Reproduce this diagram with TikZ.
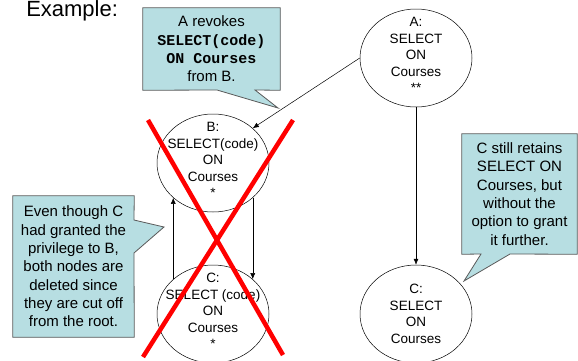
\documentclass[tikz,border=0pt]{standalone}
\usepackage{fontspec}
\setmainfont{Liberation Sans}
\setmonofont{Liberation Mono}
\usetikzlibrary{arrows.meta,shapes.geometric,backgrounds}

\definecolor{tipfill}{RGB}{183,222,226}
\definecolor{tipline}{RGB}{90,90,90}

\begin{document}
\begin{tikzpicture}[x=1pt,y=-1pt,>={Latex[length=6pt,width=5pt]},line width=0.5pt,
	priv/.style={ellipse,draw,minimum width=112pt,minimum height=98pt,inner sep=0pt},
	privtext/.style={align=center,inner sep=0pt,font=\fontsize{13.5}{16.5}\selectfont},
	tiptext/.style={align=center,inner sep=0pt,font=\fontsize{15}{18.3}\selectfont},
	tipbox/.style={fill=tipfill,draw=tipline,line width=0.8pt},
	cross/.style={red,line width=4.5pt}]
\useasboundingbox (0,0) rectangle (578,360);

\node at (26,16) [anchor=base west,inner sep=0pt,font=\fontsize{22}{26}\selectfont] (title) {Example:};

\node[priv] (A) at (416,58) {};
\node[privtext] (At) at (416,55) {A:\\SELECT\\ON\\Courses\\**};

\node[priv] (B) at (213,163) {};
\node[privtext] (Bt) at (213,160) {B:\\SELECT(code)\\ON\\Courses\\*};

\node[priv] (C) at (213,314) {};
\node[privtext] (Ct) at (213,311) {C:\\SELECT (code)\\ON\\Courses\\*};

\node[priv] (Cn) at (416,314) {};
\node[privtext] (Cnt) at (416,314) {C:\\SELECT\\ON\\Courses};

\draw[->] (A.west) -- (B.north east);
\draw[->] (A.south) -- (Cn.north);
\draw[->] (B.south east) -- (C.north east);
\draw[->] (C.north west) -- (B.south west);

\node[tiptext,minimum width=137pt,minimum height=82pt] (revoke) at (211.5,49)
	{A revokes\\\texttt{\textbf{SELECT(code)}}\\\texttt{\textbf{ON Courses}}\\from B.};
\node[tiptext,minimum width=121pt,minimum height=141pt] (deleted) at (73.5,266.5)
	{Even though C\\had granted the\\privilege to B,\\both nodes are\\deleted since\\they are cut off\\from the root.};
\node[tiptext,minimum width=115pt,minimum height=120pt] (retain) at (519.5,194)
	{C still retains\\SELECT ON\\Courses, but\\without the\\option to grant\\it further.};

\begin{scope}[on background layer]
\draw[tipbox] (revoke.north west) -- (revoke.north east) -- (revoke.south east)
	-- (255,90) -- (278,108) -- (217,90) -- (revoke.south west) -- cycle;
\draw[tipbox] (deleted.north west) -- (deleted.north east) -- (134,220)
	-- (164,227) -- (134,253) -- (deleted.south east) -- (deleted.south west) -- cycle;
\draw[tipbox] (retain.north west) -- (retain.north east) -- (retain.south east)
	-- (510,254) -- (464,281) -- (481,254) -- (retain.south west) -- cycle;
\end{scope}

\draw[cross] (148,120) -- (283,355);
\draw[cross] (293,120) -- (143,357);

\end{tikzpicture}
\end{document}
